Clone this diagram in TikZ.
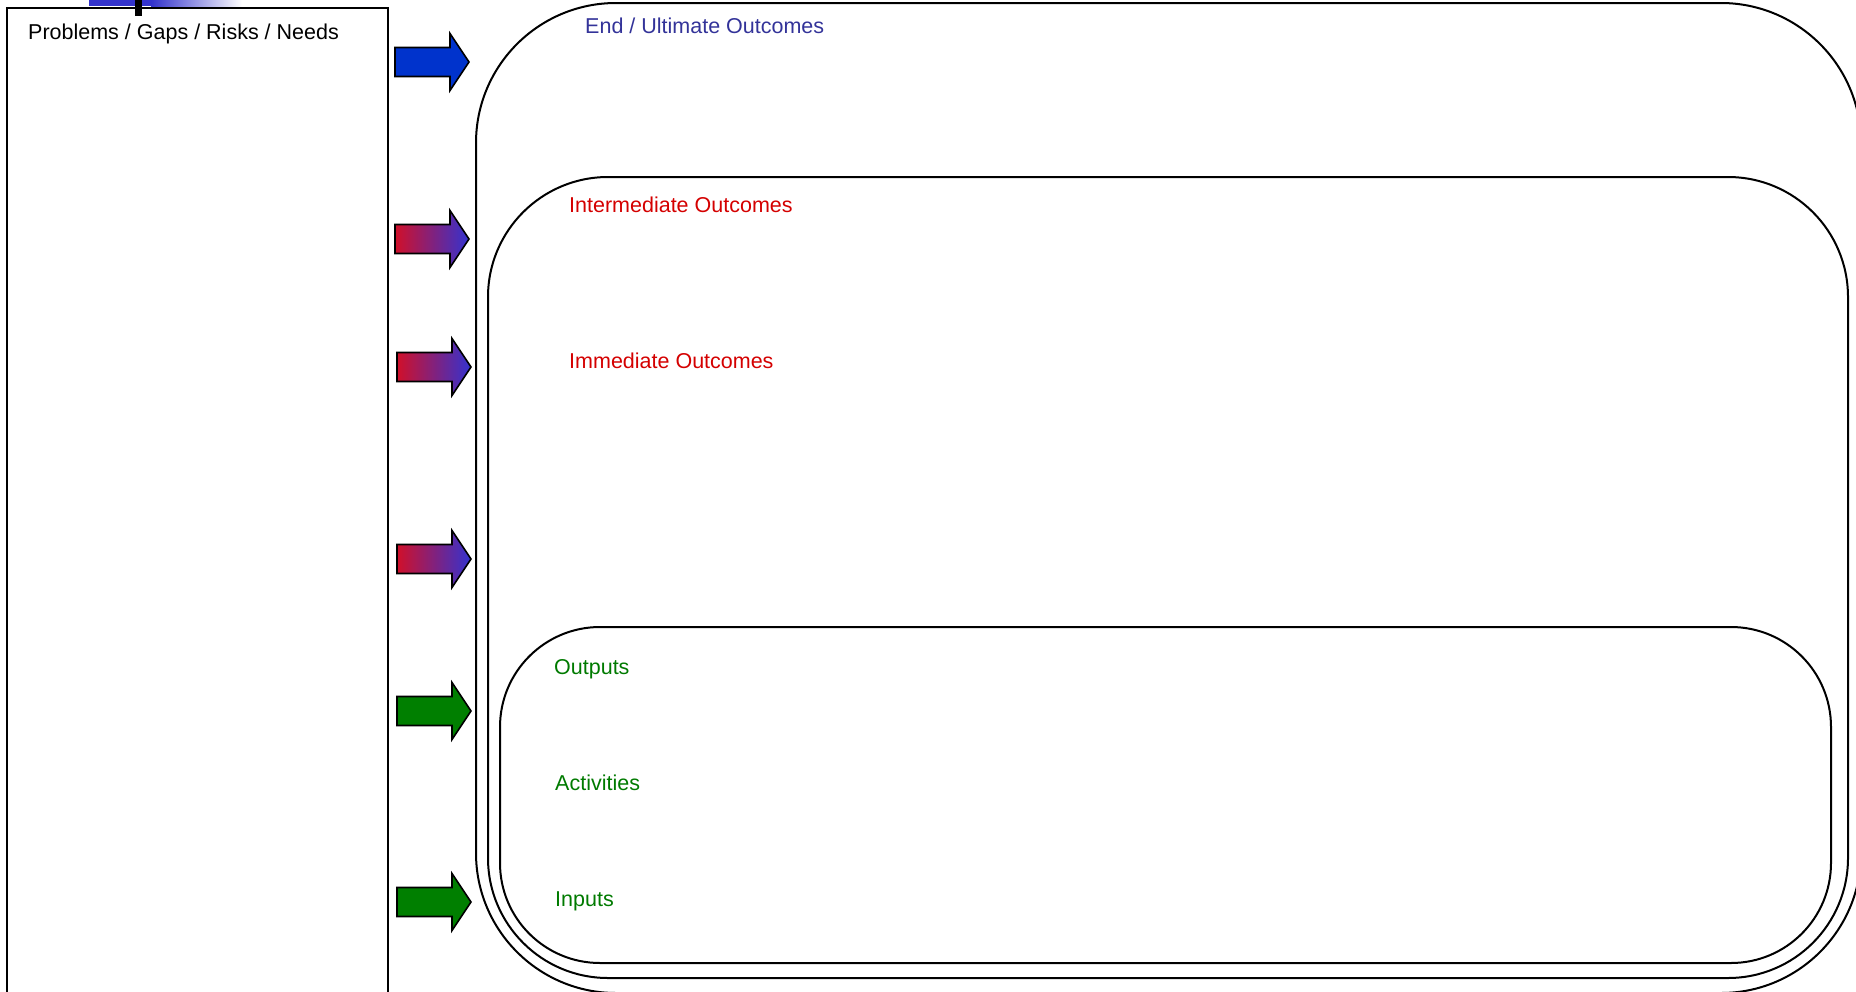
\documentclass[tikz,border=0pt]{standalone}
\usepackage{fontspec}
\setmainfont{Liberation Sans}
\definecolor{arrowblue}{HTML}{0033CC}
\definecolor{arrowred}{HTML}{D0102A}
\definecolor{arrowviolet}{HTML}{3333D0}
\definecolor{arrowgreen}{HTML}{007F00}
\definecolor{navytext}{HTML}{333399}
\definecolor{redtext}{HTML}{D40000}
\definecolor{greentext}{HTML}{007A00}
\definecolor{barblue}{HTML}{3333CC}
\begin{document}
\begin{tikzpicture}[x=1pt,y=-1pt,
  panel/.style={draw=black, line width=2pt, rectangle, inner sep=0pt},
  heading/.style={anchor=base west, inner sep=0pt, font=\fontsize{21.5}{25}\selectfont},
  blockarrow/.pic={\draw[pic actions] (0,-14.5) -- (55,-14.5) -- (55,-28.5) -- (74,0) -- (55,28.5) -- (55,14.5) -- (0,14.5) -- cycle;},
  solidblue/.style={fill=arrowblue, draw=black, line width=1.6pt},
  mixed/.style={left color=arrowred, right color=arrowviolet, draw=black, line width=1.6pt},
  solidgreen/.style={fill=arrowgreen, draw=black, line width=1.6pt},
]
\useasboundingbox (0,0) rectangle (1856,991);
\clip (0,0) rectangle (1856,991);

% strip along the top edge
\fill[barblue] (89,0) rectangle (152,6);
\shade[left color=barblue, right color=white] (151,0) rectangle (242,6);
\fill[black] (135,0) rectangle (142,16);

% left column
\node[panel, minimum width=381pt, minimum height=1002pt] (needs) at (197.5,509) {};
\node[heading] (needstext) at (28,39) {Problems / Gaps / Risks / Needs};

% nested outcome panels
\node[panel, rounded corners=140pt, minimum width=1385pt, minimum height=990pt] (ultimate) at (1168.5,498) {};
\node[panel, rounded corners=120pt, minimum width=1360pt, minimum height=801pt] (outcomes) at (1168,577.5) {};
\node[panel, rounded corners=100pt, minimum width=1331pt, minimum height=336pt] (process) at (1165.5,795) {};

% labels
\node[heading, text=navytext] (endtext) at (585,33) {End / Ultimate Outcomes};
\node[heading, text=redtext] (intertext) at (569,212) {Intermediate Outcomes};
\node[heading, text=redtext] (immtext) at (569,368) {Immediate Outcomes};
\node[heading, text=greentext] (outtext) at (554,674) {Outputs};
\node[heading, text=greentext] (acttext) at (555,790) {Activities};
\node[heading, text=greentext] (intext) at (555,906) {Inputs};

% block arrows
\pic[solidblue] (a1) at (395,62) {blockarrow};
\pic[mixed] (a2) at (395,239) {blockarrow};
\pic[mixed] (a3) at (397,367) {blockarrow};
\pic[mixed] (a4) at (397,559) {blockarrow};
\pic[solidgreen] (a5) at (397,711) {blockarrow};
\pic[solidgreen] (a6) at (397,902) {blockarrow};
\end{tikzpicture}
\end{document}
